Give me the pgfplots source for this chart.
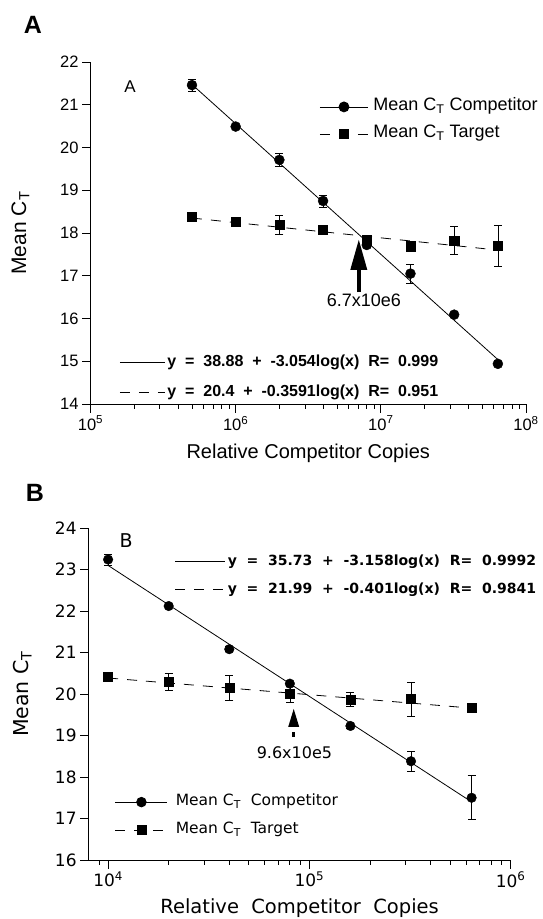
\documentclass[border=0pt]{standalone}
\usepackage{pgfplots}
\pgfplotsset{compat=1.18}
\usepackage{fontspec}
\setmainfont{Liberation Sans}
\newfontfamily\dv{DejaVu Sans}

\tikzset{tgtdash/.style={dash pattern=on 10pt off 9pt}}

\begin{document}
\begin{tikzpicture}
\path[use as bounding box] (0pt,0pt) rectangle (543pt,-919pt);

% ---------------- panel A ----------------
\node[font=\bfseries\fontsize{25}{30}\selectfont] at (33pt,-25pt) {A};
\begin{axis}[
  scale only axis, xmode=log, axis lines*=left,
  axis line style={line width=0.8pt},
  tick align=outside, major tick length=8.5pt, minor tick length=4.5pt,
  tick style={black, line width=0.8pt},
  clip=false,
  at={(90.5pt,-404pt)}, anchor=south west,
  width=435.5pt, height=342pt,
  xmin=1e5, xmax=1e8, ymin=14, ymax=22,
  ytick={14,15,...,22},
  xtick={1e5,1e6,1e7,1e8},
  xticklabels={10\textsuperscript{5},10\textsuperscript{6},10\textsuperscript{7},10\textsuperscript{8}},
  minor xtick={2e5,3e5,4e5,5e5,6e5,7e5,8e5,9e5,2e6,3e6,4e6,5e6,6e6,7e6,8e6,9e6,2e7,3e7,4e7,5e7,6e7,7e7,8e7,9e7},
  yticklabel style={font=\fontsize{16.5}{19}\selectfont, /pgf/number format/assume math mode=true},
  xticklabel style={font=\fontsize{16.5}{19}\selectfont},
  xlabel={Relative Competitor Copies},
  ylabel={Mean C\textsubscript{T}},
  label style={font=\fontsize{20}{24}\selectfont},
  ylabel style={font=\fontsize{21}{25}\selectfont},
  xlabel style={at={(axis description cs:0.5,-0.143)}, anchor=center},
  ylabel style={at={(axis description cs:-0.161,0.5)}, anchor=center},
  legend cell align=left,
  legend image code/.code={\draw[mark repeat=2,mark phase=2,#1] plot coordinates {(0pt,0pt) (24pt,0pt) (48pt,0pt)};},
  legend style={at={(axis description cs:0.526,0.895)}, anchor=north west,
    draw=none, fill=none, inner sep=0pt, outer sep=0pt,
    font=\fontsize{18}{21}\selectfont, row sep=9pt, column sep=5pt,
    nodes={inner sep=0pt, text height=13pt, text depth=5pt}},
]
% fitted lines
\addplot[black, line width=0.8pt, forget plot] coordinates {(5e5,21.475) (6.4e7,15.04)};
\addplot[black, line width=0.8pt, tgtdash, forget plot] coordinates {(5e5,18.35) (6.4e7,17.60)};
% competitor
\addplot[only marks, black, mark=*, mark size=5pt, forget plot,
  error bars/.cd, y dir=both, y explicit,
  error bar style={line width=0.7pt},
  error mark options={rotate=90, mark size=4pt, line width=0.7pt}] coordinates {
  (5e5,21.46) +- (0,0.14)
  (1e6,20.49) +- (0,0.04)
  (2e6,19.71) +- (0,0.15)
  (4e6,18.75) +- (0,0.14)
  (8e6,17.72) +- (0,0.06)
  (1.6e7,17.05) +- (0,0.22)
  (3.2e7,16.09) +- (0,0.03)
  (6.4e7,14.94) +- (0,0.03)
};
% target
\addplot[only marks, black, mark=square*, mark size=4.6pt, forget plot,
  error bars/.cd, y dir=both, y explicit,
  error bar style={line width=0.7pt},
  error mark options={rotate=90, mark size=4pt, line width=0.7pt}] coordinates {
  (5e5,18.38) +- (0,0.04)
  (1e6,18.26) +- (0,0.05)
  (2e6,18.19) +- (0,0.22)
  (4e6,18.07) +- (0,0.05)
  (8e6,17.83) +- (0,0.10)
  (1.6e7,17.69) +- (0,0.06)
  (3.2e7,17.82) +- (0,0.33)
  (6.4e7,17.70) +- (0,0.47)
};
\addlegendimage{black, line width=0.8pt, mark=*, mark size=5pt}
\addlegendentry{Mean C\textsubscript{T} Competitor}
\addlegendimage{black, line width=0.8pt, tgtdash, mark=square*, mark size=4.6pt, mark options={solid}}
\addlegendentry{Mean C\textsubscript{T} Target}
% annotations
\node[font=\fontsize{17}{20}\selectfont] at (axis cs:1.87e5,21.42) {A};
\draw[line width=4pt] (axis cs:7.05e6,16.62) -- (axis cs:7.05e6,17.2);
\fill (axis cs:7.05e6,17.84) -- ++(-8.5pt,-30pt) -- ++(17pt,0pt) -- cycle;
\node[font=\fontsize{18}{21}\selectfont] at (axis cs:7.64e6,16.43) {6.7x10e6};
\end{axis}
% fit-equation legend A
\begin{axis}[
  scale only axis, xmode=log, hide axis,
  at={(90.5pt,-404pt)}, anchor=south west,
  width=435.5pt, height=342pt,
  xmin=1e5, xmax=1e8, ymin=14, ymax=22,
  legend cell align=left,
  legend image code/.code={\draw[#1] (0pt,0pt) -- (45pt,0pt);},
  legend style={at={(axis description cs:0.0667,0.146)}, anchor=north west,
    draw=none, fill=none, inner sep=0pt, outer sep=0pt,
    font=\bfseries\fontsize{16}{19}\selectfont, row sep=14pt, column sep=2pt,
    nodes={inner sep=0pt, text height=12pt, text depth=4pt}},
]
\addlegendimage{black, line width=0.8pt}
\addlegendentry{y\ \ =\ \ 38.88\ \ +\ \ -3.054log(x)\ \ R=\ \ 0.999}
\addlegendimage{black, line width=0.8pt, tgtdash}
\addlegendentry{y\ \ =\ \ 20.4\ \ +\ \ -0.3591log(x)\ \ R=\ \ 0.951}
\end{axis}

% ---------------- panel B ----------------
\node[font=\bfseries\fontsize{25}{30}\selectfont] at (35pt,-493pt) {B};
\begin{axis}[
  scale only axis, xmode=log, axis lines*=left,
  axis line style={line width=0.8pt},
  tick align=outside, major tick length=8.5pt, minor tick length=4.5pt,
  tick style={black, line width=0.8pt},
  clip=false,
  at={(88.6pt,-860pt)}, anchor=south west,
  width=422pt, height=332pt,
  xmin=8000, xmax=1e6, ymin=16, ymax=24,
  ytick={16,17,...,24},
  xtick={1e4,1e5,1e6},
  xticklabels={10\textsuperscript{4},10\textsuperscript{5},10\textsuperscript{6}},
  minor xtick={9e3,2e4,3e4,4e4,5e4,6e4,7e4,8e4,9e4,2e5,3e5,4e5,5e5,6e5,7e5,8e5,9e5},
  yticklabel style={font=\dv\fontsize{17}{20}\selectfont, /pgf/number format/assume math mode=true},
  xticklabel style={font=\dv\fontsize{17}{20}\selectfont},
  xlabel={Relative\ \ Competitor\ \ Copies},
  ylabel={Mean C\textsubscript{T}},
  label style={font=\dv\fontsize{19.5}{23}\selectfont},
  ylabel style={font=\dv\fontsize{20.5}{24}\selectfont},
  xlabel style={at={(axis description cs:0.5,-0.1446)}, anchor=center},
  ylabel style={at={(axis description cs:-0.157,0.5)}, anchor=center},
  legend cell align=left,
  legend image code/.code={\draw[mark repeat=2,mark phase=2,#1] plot coordinates {(0pt,0pt) (26pt,0pt) (52pt,0pt)};},
  legend style={at={(axis description cs:0.0626,0.2)}, anchor=north west,
    draw=none, fill=none, inner sep=0pt, outer sep=0pt,
    font=\dv\fontsize{15.5}{18}\selectfont, row sep=11pt, column sep=8pt,
    nodes={inner sep=0pt, text height=12pt, text depth=5pt}},
]
\addplot[black, line width=0.8pt, forget plot] coordinates {(1e4,23.098) (6.4e5,17.40)};
\addplot[black, line width=0.8pt, tgtdash, forget plot] coordinates {(1e4,20.386) (6.4e5,19.66)};
\addplot[only marks, black, mark=*, mark size=4.8pt, forget plot,
  error bars/.cd, y dir=both, y explicit,
  error bar style={line width=0.7pt},
  error mark options={rotate=90, mark size=4pt, line width=0.7pt}] coordinates {
  (1e4,23.24) +- (0,0.13)
  (2e4,22.12) +- (0,0.04)
  (4e4,21.08) +- (0,0.06)
  (8e4,20.25) +- (0,0.04)
  (1.6e5,19.23) +- (0,0.05)
  (3.2e5,18.38) +- (0,0.24)
  (6.4e5,17.50) +- (0,0.53)
};
\addplot[only marks, black, mark=square*, mark size=4.5pt, forget plot,
  error bars/.cd, y dir=both, y explicit,
  error bar style={line width=0.7pt},
  error mark options={rotate=90, mark size=4pt, line width=0.7pt}] coordinates {
  (1e4,20.41) +- (0,0.04)
  (2e4,20.29) +- (0,0.20)
  (4e4,20.15) +- (0,0.31)
  (8e4,20.00) +- (0,0.19)
  (1.6e5,19.87) +- (0,0.16)
  (3.2e5,19.88) +- (0,0.41)
  (6.4e5,19.67) +- (0,0.04)
};
\addlegendimage{black, line width=0.8pt, mark=*, mark size=4.8pt}
\addlegendentry{Mean C\textsubscript{T}\ \ Competitor}
\addlegendimage{black, line width=0.8pt, tgtdash, mark=square*, mark size=4.5pt, mark options={solid}}
\addlegendentry{Mean C\textsubscript{T}\ \ Target}
\node[font=\dv\fontsize{19}{22}\selectfont] at (axis cs:1.23e4,23.69) {B};
\fill (axis cs:8.36e4,19.64) -- ++(-5.5pt,-18pt) -- ++(11pt,0pt) -- cycle;
\fill (axis cs:8.36e4,19.08) ++(-1.5pt,0pt) rectangle ++(3pt,-5pt);
\node[font=\dv\fontsize{16}{19}\selectfont] at (axis cs:8.43e4,18.59) {9.6x10e5};
\end{axis}
% fit-equation legend B
\begin{axis}[
  scale only axis, xmode=log, hide axis,
  at={(88.6pt,-860pt)}, anchor=south west,
  width=422pt, height=332pt,
  xmin=8000, xmax=1e6, ymin=16, ymax=24,
  legend cell align=left,
  legend image code/.code={\draw[#1] (0pt,0pt) -- (50pt,0pt);},
  legend style={at={(axis description cs:0.2047,0.921)}, anchor=north west,
    draw=none, fill=none, inner sep=0pt, outer sep=0pt,
    font=\dv\bfseries\fontsize{14}{17}\selectfont, row sep=13pt, column sep=2pt,
    nodes={inner sep=0pt, text height=11pt, text depth=4pt}},
]
\addlegendimage{black, line width=0.8pt}
\addlegendentry{y\ \ =\ \ 35.73\ \ +\ \ -3.158log(x)\ \ R=\ \ 0.9992}
\addlegendimage{black, line width=0.8pt, tgtdash}
\addlegendentry{y\ \ =\ \ 21.99\ \ +\ \ -0.401log(x)\ \ R=\ \ 0.9841}
\end{axis}
\end{tikzpicture}
\end{document}
